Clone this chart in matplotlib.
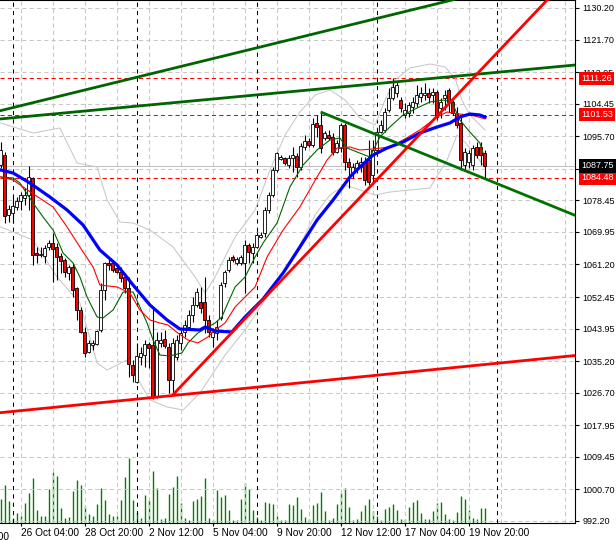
import matplotlib
matplotlib.use('Agg')
import matplotlib.pyplot as plt
import matplotlib.transforms as mtransforms
import numpy as np

# velas de 4 horas (apertura, maximo, minimo, cierre)
apertura = [1087.96, 1090.65, 1074.52, 1075.05, 1076.75, 1078.36, 1079.09, 1079.89, 1084.47, 1064.29,
            1063.75, 1063.49, 1065.91, 1066.98, 1065.91, 1063.49, 1062.41, 1058.91, 1060.53, 1054.88,
            1048.96, 1043.04, 1037.66, 1039.54, 1039.81, 1043.58, 1054.34, 1061.60, 1061.60, 1060.26,
            1059.18, 1057.84, 1055.00, 1034.16, 1029.59, 1036.32, 1036.85, 1039.81, 1039.54, 1025.56,
            1040.08, 1041.16, 1039.01, 1030.13, 1036.32, 1040.08, 1043.04, 1044.39, 1047.61, 1050.30,
            1051.11, 1051.11, 1046.27, 1041.70, 1042.77, 1046.81, 1056.22, 1059.72, 1063.22, 1061.60,
            1061.60, 1061.60, 1066.45, 1064.29, 1065.91, 1068.60, 1069.67, 1075.86, 1079.89, 1086.62,
            1089.58, 1089.85, 1087.96, 1089.85, 1090.39, 1087.43, 1092.81, 1094.42, 1093.35, 1099.26,
            1098.72, 1095.23, 1096.03, 1095.50, 1091.46, 1092.54, 1098.72, 1088.77, 1085.81, 1087.16,
            1087.43, 1088.77, 1089.31, 1085.27, 1092.00, 1096.84, 1097.38, 1102.76, 1105.99, 1107.33,
            1105.45, 1101.41, 1101.95, 1103.57, 1104.64, 1106.26, 1106.79, 1107.33, 1106.79, 1107.60,
            1103.30, 1105.99, 1108.14, 1104.91, 1101.95, 1099.26, 1087.96, 1088.77, 1087.96, 1092.81,
            1092.81, 1091.19]
maximo = [1094.15, 1091.46, 1077.20, 1079.36, 1079.36, 1080.78, 1081.78, 1087.70, 1084.82, 1065.91,
          1065.91, 1066.45, 1067.79, 1069.67, 1066.98, 1064.29, 1062.95, 1061.06, 1061.60, 1055.15,
          1049.77, 1044.39, 1040.89, 1040.89, 1043.58, 1056.22, 1061.87, 1063.22, 1062.41, 1061.06,
          1060.53, 1058.91, 1057.84, 1035.51, 1040.08, 1039.01, 1040.89, 1040.35, 1049.23, 1043.04,
          1043.04, 1043.58, 1040.08, 1041.43, 1042.23, 1043.58, 1046.27, 1048.96, 1052.46, 1054.88,
          1055.15, 1057.84, 1047.61, 1044.12, 1046.27, 1056.49, 1059.72, 1063.22, 1063.75, 1063.22,
          1063.75, 1067.79, 1066.98, 1066.98, 1069.94, 1069.94, 1076.67, 1080.70, 1087.43, 1091.46,
          1090.65, 1090.12, 1090.65, 1092.81, 1091.19, 1093.88, 1096.03, 1095.23, 1100.61, 1101.41,
          1102.22, 1097.11, 1097.38, 1096.57, 1094.69, 1099.26, 1099.26, 1089.85, 1088.50, 1089.31,
          1090.12, 1090.12, 1094.69, 1094.69, 1097.92, 1100.07, 1103.30, 1108.68, 1111.26, 1110.29,
          1106.26, 1104.64, 1104.91, 1106.26, 1109.48, 1108.95, 1110.02, 1108.68, 1108.68, 1108.14,
          1105.99, 1108.14, 1108.68, 1105.45, 1103.57, 1100.88, 1092.54, 1092.00, 1093.35, 1094.15,
          1094.15, 1092.00]
minimo = [1087.16, 1072.36, 1072.63, 1072.36, 1075.86, 1075.86, 1077.20, 1075.86, 1061.06, 1061.60,
          1063.22, 1061.60, 1065.10, 1056.49, 1057.03, 1058.91, 1057.84, 1057.03, 1052.46, 1046.27,
          1042.77, 1036.32, 1037.39, 1038.20, 1039.54, 1043.04, 1051.65, 1059.72, 1059.18, 1058.91,
          1056.49, 1053.53, 1030.94, 1029.59, 1029.32, 1034.16, 1033.63, 1033.36, 1025.02, 1025.29,
          1039.01, 1038.74, 1026.63, 1026.09, 1035.51, 1038.20, 1041.70, 1043.58, 1045.73, 1049.77,
          1048.15, 1042.77, 1041.70, 1039.01, 1040.89, 1046.27, 1055.15, 1059.18, 1061.87, 1061.06,
          1061.06, 1053.53, 1061.60, 1061.60, 1065.64, 1068.33, 1068.60, 1075.05, 1079.36, 1086.08,
          1089.31, 1087.96, 1087.16, 1086.08, 1084.74, 1086.62, 1092.00, 1092.81, 1092.81, 1095.50,
          1091.19, 1094.69, 1094.69, 1090.65, 1091.19, 1091.46, 1086.62, 1081.78, 1084.47, 1085.81,
          1086.08, 1082.58, 1082.58, 1083.12, 1091.46, 1096.57, 1096.84, 1102.22, 1105.45, 1106.26,
          1102.22, 1100.61, 1100.88, 1101.95, 1103.57, 1104.91, 1105.45, 1104.64, 1104.64, 1100.07,
          1100.61, 1102.76, 1102.22, 1101.41, 1097.92, 1086.62, 1086.62, 1087.16, 1086.62, 1089.85,
          1087.96, 1084.30]
cierre = [1092.00, 1074.25, 1076.13, 1076.94, 1078.36, 1079.89, 1079.89, 1084.82, 1063.75, 1063.75,
          1064.02, 1065.64, 1066.98, 1065.37, 1063.22, 1062.14, 1059.18, 1060.53, 1054.34, 1048.96,
          1043.04, 1037.39, 1040.08, 1040.08, 1043.31, 1054.34, 1061.60, 1061.06, 1059.72, 1059.18,
          1057.57, 1054.88, 1034.43, 1031.47, 1036.59, 1037.39, 1039.81, 1038.74, 1025.56, 1040.89,
          1040.89, 1039.28, 1030.13, 1040.08, 1040.89, 1042.77, 1044.92, 1047.61, 1050.30, 1053.80,
          1049.50, 1046.27, 1043.04, 1043.04, 1044.39, 1055.68, 1059.18, 1062.41, 1062.41, 1062.68,
          1063.22, 1066.45, 1064.56, 1065.91, 1069.13, 1069.13, 1075.86, 1079.89, 1086.62, 1091.19,
          1090.12, 1088.50, 1089.85, 1090.65, 1087.43, 1093.08, 1094.42, 1093.35, 1098.99, 1098.19,
          1092.54, 1096.57, 1095.23, 1091.46, 1093.88, 1098.72, 1088.77, 1087.43, 1087.43, 1088.50,
          1088.77, 1083.93, 1083.39, 1092.00, 1096.84, 1098.72, 1102.22, 1105.99, 1108.95, 1109.48,
          1103.30, 1102.76, 1104.10, 1104.91, 1106.79, 1107.33, 1107.33, 1106.26, 1107.60, 1100.88,
          1104.91, 1106.79, 1104.91, 1101.95, 1098.72, 1089.31, 1091.46, 1091.19, 1092.54, 1090.65,
          1090.65, 1087.75]
volumen = [24, 38, 22, 5, 10, 7, 20, 30, 45, 13, 7, 7, 34, 51, 47, 15, 5, 6, 32, 43,
           38, 17, 9, 7, 19, 35, 23, 9, 7, 7, 23, 46, 65, 23, 11, 5, 28, 23, 52, 35,
           4, 5, 29, 36, 47, 20, 5, 3, 22, 24, 27, 45, 5, 3, 33, 26, 28, 13, 3, 3,
           24, 40, 34, 13, 6, 3, 21, 20, 19, 7, 3, 3, 19, 18, 26, 14, 6, 4, 18, 20,
           31, 12, 3, 5, 19, 30, 35, 16, 3, 4, 12, 18, 24, 12, 7, 3, 14, 16, 19, 13,
           4, 4, 16, 21, 23, 10, 4, 4, 12, 20, 21, 9, 4, 3, 11, 27, 24, 13, 5, 4,
           15, 15]

# medias moviles (posicion de vela, precio)
ma_azul_x = [0, 3.1, 7.3, 12.3, 16.6, 20.6, 24.8, 29.1, 33.1, 37.3, 41.6, 44.8, 49.8, 51.1, 53.6, 57.8,
             61.1, 65.6, 70.6, 74.8, 79.1, 83.1, 87.3, 89.8, 93.1, 96.6, 100.6, 104.8, 109.1, 112.3,
             114.8, 117.3, 119.8, 121.1]
ma_azul_y = [1086.62, 1085.81, 1083.12, 1079.36, 1075.86, 1071.83, 1065.10, 1061.06, 1055.68, 1050.31,
             1046.27, 1043.85, 1043.58, 1044.39, 1043.31, 1043.04, 1047.08, 1051.92, 1058.91, 1065.91,
             1073.17, 1078.55, 1084.74, 1087.43, 1090.65, 1092.54, 1094.15, 1096.57, 1098.19, 1099.26,
             1100.88, 1101.68, 1101.41, 1100.88]
ma_roja_x = [0, 3.1, 7.8, 13.1, 16.6, 19.8, 23.1, 24.8, 29.1, 32.3, 34.8, 37.3, 39.8, 41.8, 44.3, 46.8,
             49.3, 51.8, 53.6, 56.1, 58.6, 61.1, 63.6, 66.6, 70.6, 74.8, 79.1, 81.6, 84.1, 87.3, 89.8,
             93.1, 97.3, 100.6, 104.8, 109.1, 111.6, 114.8, 118.6, 121.1]
ma_roja_y = [1084.74, 1083.93, 1080.43, 1076.67, 1071.29, 1065.91, 1060.53, 1055.68, 1055.15, 1053.53,
             1048.96, 1046.27, 1045.46, 1044.93, 1042.77, 1040.89, 1040.08, 1041.70, 1043.58, 1045.46,
             1049.77, 1052.46, 1055.15, 1063.22, 1070.48, 1076.67, 1084.74, 1089.31, 1092.54, 1092.81,
             1092.00, 1092.27, 1092.81, 1094.69, 1097.38, 1100.88, 1102.22, 1101.68, 1101.14, 1100.34]
ma_verde_x = [0, 3.1, 4.8, 8.1, 10.6, 13.1, 15.6, 18.1, 19.8, 21.6, 24.1, 25.6, 28.1, 30.6, 33.1, 34.8,
              36.6, 38.1, 39.8, 42.3, 45.3, 46.8, 49.3, 51.8, 53.6, 55.3, 56.8, 58.6, 61.1, 63.6, 65.6,
              69.1, 72.3, 75.6, 79.1, 82.3, 84.8, 86.6, 89.1, 92.3, 94.8, 97.3, 100.6, 104.1, 107.3,
              110.6, 112.8, 114.8, 117.3, 119.8, 120.6]
ma_verde_y = [1084.74, 1084.47, 1083.12, 1077.74, 1073.98, 1070.48, 1064.29, 1061.60, 1057.84, 1052.46,
              1047.08, 1046.81, 1048.96, 1053.80, 1053.80, 1049.77, 1045.46, 1040.89, 1036.85, 1036.59,
              1037.39, 1040.08, 1042.77, 1044.39, 1045.46, 1047.08, 1050.84, 1055.15, 1057.84, 1063.22,
              1066.98, 1072.36, 1082.05, 1087.96, 1092.00, 1094.69, 1095.23, 1092.54, 1091.46, 1090.12,
              1095.50, 1098.19, 1101.41, 1103.30, 1104.91, 1105.45, 1104.91, 1100.07, 1096.84, 1093.88,
              1091.19]
# bandas de bollinger
banda_sup_x = [0, 8.1, 14.8, 19.1, 24.1, 26.6, 29.8, 33.1, 37.3, 43.1, 48.6, 51.1, 53.6, 58.6, 63.6,
               67.3, 71.1, 74.8, 78.6, 82.3, 86.1, 89.8, 93.6, 96.1, 98.6, 102.3, 107.3, 111.1, 113.6,
               115.3, 117.3, 121.1]
banda_sup_y = [1099.26, 1096.57, 1097.92, 1088.50, 1087.43, 1078.55, 1072.63, 1072.36, 1070.48, 1065.91,
               1057.84, 1053.53, 1057.84, 1068.60, 1075.86, 1086.62, 1096.03, 1102.22, 1106.79, 1108.14,
               1105.45, 1100.61, 1098.72, 1105.45, 1110.83, 1114.06, 1115.13, 1114.33, 1111.37, 1105.45,
               1101.41, 1097.38]
banda_inf_x = [0, 8.1, 14.1, 19.8, 24.1, 26.6, 31.6, 37.3, 41.6, 45.6, 49.8, 56.1, 61.1, 66.1, 71.1,
               74.8, 78.6, 82.3, 86.1, 89.8, 93.6, 97.3, 102.3, 107.3, 111.6, 114.1, 116.6, 121.1]
banda_inf_y = [1071.29, 1067.79, 1057.84, 1050.84, 1034.70, 1032.82, 1035.51, 1024.75, 1022.87, 1022.06,
               1026.63, 1036.85, 1043.58, 1051.65, 1059.72, 1066.45, 1074.52, 1079.89, 1082.58, 1081.24,
               1079.89, 1080.70, 1081.24, 1081.78, 1089.31, 1096.03, 1093.50, 1087.31]

# lineas de tendencia: dos anclas (vela, precio)
verde_sup = [(0, 1102.60), (100, 1128.96)]
verde_inf = [(0, 1100.36), (100, 1110.46)]
verde_bajista = [(80, 1102.22), (121, 1084.30)]
roja_inf = [(0, 1021.35), (100, 1032.05)]
roja_alcista = [(43, 1026.09), (100, 1090.79)]

niveles_rojos = [1111.26, 1101.53, 1084.48]
precio_actual = 1087.75

ticks_precio = [1130.20, 1121.70, 1112.95, 1104.45, 1095.70, 1086.95, 1078.45, 1069.95, 1061.20,
                1052.45, 1043.95, 1035.20, 1026.70, 1017.95, 1009.45, 1000.70, 992.20]
ticks_fecha = [5, 21, 37, 53, 69, 85, 101, 117]
etiquetas_fecha = ['26 Oct 04:00', '28 Oct 20:00', '2 Nov 12:00', '5 Nov 04:00', '9 Nov 20:00',
                   '12 Nov 12:00', '17 Nov 04:00', '19 Nov 20:00']
separadores = [3, 34, 64, 94, 124]

plt.rcParams['font.family'] = ['Liberation Sans', 'DejaVu Sans']

fig = plt.figure(figsize=(6.16, 5.4), dpi=100)
ax = fig.add_axes([0, 17 / 540, 575 / 616, 523 / 540])
ax.set_xlim(-0.17, 143.58)
ax.set_ylim(991.66, 1132.35)

# volumen en el fondo
ax2 = ax.twinx()
x = np.arange(len(cierre))
ax2.vlines(x, 0, volumen, color='#008000', lw=1.0)
ax2.set_ylim(0, 523)
ax2.set_xlim(-0.17, 143.58)
ax2.axis('off')
ax.set_zorder(ax2.get_zorder() + 1)
ax.patch.set_visible(False)
fig.patch.set_facecolor('white')

# grilla
ax.set_xticks(ticks_fecha)
ax.set_xticks([t for t in range(13, 142, 16)], minor=True)
ax.set_xticklabels(etiquetas_fecha, ha='left', fontsize=7.3)
ax.tick_params(axis='x', which='major', length=2, pad=1.5, direction='out')
ax.tick_params(axis='x', which='minor', length=0)
ax.set_yticks(ticks_precio)
# la etiqueta 1086.95 queda tapada por el precio actual
ax.set_yticklabels(['' if t == 1086.95 else f'{t:.2f}' for t in ticks_precio], fontsize=6.5)
ax.yaxis.tick_right()
ax.tick_params(axis='y', length=3, pad=2.2, direction='out')
ax.grid(True, which='both', color='#c8c8c8', linestyle=(0, (4, 3)), lw=0.75)
ax.set_axisbelow(True)
for s in ['top', 'right', 'bottom']:
    ax.spines[s].set_color('black')
ax.spines['left'].set_visible(False)

# texto cortado del borde izquierdo
ax.text(-12.3, -0.018, '21 Oct 16:00', transform=mtransforms.blended_transform_factory(ax.transData, ax.transAxes),
        fontsize=7.3, va='top', ha='left', clip_on=False)

for s in separadores:
    ax.axvline(s, color='black', lw=0.75, linestyle=(0, (4, 4)), zorder=1.5)

# lineas horizontales
for n in niveles_rojos:
    ax.axhline(n, color='red', lw=0.75, linestyle=(0, (4, 3)), zorder=2)
ax.axhline(precio_actual, color='#c0c0c0', lw=0.75, zorder=1.8)

# bandas y medias
ax.plot(banda_sup_x, banda_sup_y, color='#c8c8c8', lw=0.75, zorder=2.2)
ax.plot(banda_inf_x, banda_inf_y, color='#c8c8c8', lw=0.75, zorder=2.2)

# velas
o = np.array(apertura)
c = np.array(cierre)
sube = c >= o
ax.vlines(x, minimo, maximo, color='black', lw=0.8, zorder=3)
ax.bar(x[sube], (c - o)[sube], bottom=o[sube], width=0.75, color='white', edgecolor='black', lw=0.6, zorder=4)
ax.bar(x[~sube], (o - c)[~sube], bottom=c[~sube], width=0.75, color='red', edgecolor='black', lw=0.6, zorder=4)

ax.plot(ma_verde_x, ma_verde_y, color='#006400', lw=0.8, zorder=5)
ax.plot(ma_roja_x, ma_roja_y, color='red', lw=0.8, zorder=5)
ax.plot(ma_azul_x, ma_azul_y, color='blue', lw=2.3, zorder=5)

# tendencias
def recta(p, desde, hasta=150):
    (b1, p1), (b2, p2) = p
    m = (p2 - p1) / (b2 - b1)
    return [desde, hasta], [p1 + m * (desde - b1), p1 + m * (hasta - b1)]

for linea, desde, col in [(verde_sup, -5, '#006400'), (verde_inf, -5, '#006400'),
                          (verde_bajista, verde_bajista[0][0], '#007000'),
                          (roja_inf, -5, 'red'), (roja_alcista, roja_alcista[0][0], 'red')]:
    xs, ys = recta(linea, desde)
    ax.plot(xs, ys, color=col, lw=2.0, zorder=6, solid_capstyle='butt')

# etiquetas de precio a la derecha
trans = mtransforms.blended_transform_factory(ax.transAxes, ax.transData)
for n in niveles_rojos:
    ax.text(1.011, n, f'{n:.2f}', transform=trans, color='white', fontsize=6.5, va='center', ha='left',
            bbox=dict(boxstyle='square,pad=0.25', fc='red', ec='none'), clip_on=False, zorder=10)
ax.text(1.011, precio_actual, f'{precio_actual:.2f}', transform=trans, color='white', fontsize=6.5,
        va='center', ha='left', bbox=dict(boxstyle='square,pad=0.25', fc='black', ec='none'),
        clip_on=False, zorder=10)

fig.savefig('out.png', dpi=100)
